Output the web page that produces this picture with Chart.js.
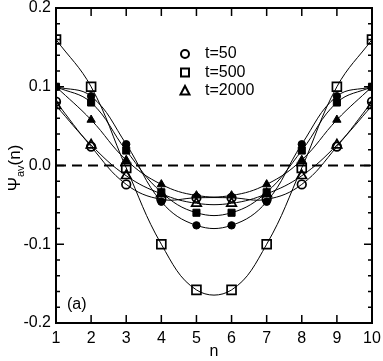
<!DOCTYPE html>
<html><head><meta charset="utf-8">
<script src="https://cdn.jsdelivr.net/npm/chart.js@4/dist/chart.umd.min.js"></script>
<style>html,body{margin:0;padding:0;background:#fff}#wrap{width:383px;height:361px}</style>
</head><body><div id="wrap"><canvas id="c" width="383" height="361"></canvas></div>
<script>
const nValues = [1,2,3,4,5,6,7,8,9,10];
const openCircle   = [0.081, 0.024, -0.024, -0.043, -0.041, -0.041, -0.043, -0.024, 0.024, 0.081];
const openSquare   = [0.160, 0.100, -0.003, -0.100, -0.158, -0.158, -0.100, -0.003, 0.100, 0.160];
const openTriangle = [0.076, 0.026, -0.013, -0.036, -0.048, -0.048, -0.036, -0.013, 0.026, 0.076];
const fullCircle   = [0.100, 0.088, 0.027, -0.046, -0.076, -0.076, -0.046, 0.027, 0.088, 0.100];
const fullSquare   = [0.100, 0.080, 0.019, -0.034, -0.060, -0.060, -0.034, 0.019, 0.080, 0.100];
const fullTriangle = [0.100, 0.058, 0.007, -0.024, -0.038, -0.038, -0.024, 0.007, 0.058, 0.100];
const legendLabels = ['t=50', 't=500', 't=2000'];
const yTicks = [-0.2, -0.1, 0.0, 0.1, 0.2];

const FONT = "'Liberation Sans', Arial, sans-serif";

function ds(label, vals, style, r, filled){
  return {
    label, data: nValues.map((n,i)=>({x:n, y:vals[i]})),
    borderColor:'#000', borderWidth:1, tension:0.4, fill:false,
    pointStyle:style, pointRadius:r, pointHoverRadius:r,
    pointBorderColor:'#000', pointBorderWidth: filled?1:1.7,
    pointBackgroundColor: filled ? '#000' : 'rgba(0,0,0,0)'
  };
}

const frame = {
  id:'frame',
  beforeDatasetsDraw(chart){
    const {ctx, chartArea:a, scales:{x,y}} = chart;
    ctx.save();
    ctx.strokeStyle='#000'; ctx.lineWidth=2; ctx.setLineDash([10,6]);
    const y0 = y.getPixelForValue(0);
    ctx.beginPath(); ctx.moveTo(a.left, y0); ctx.lineTo(a.right, y0); ctx.stroke();
    ctx.restore();
  },
  afterDraw(chart){
    const {ctx, chartArea:a, scales:{x,y}} = chart;
    ctx.save();
    ctx.strokeStyle='#000'; ctx.lineWidth=2;
    ctx.strokeRect(a.left, a.top, a.right-a.left, a.bottom-a.top);
    ctx.lineWidth=1.5;
    ctx.beginPath();
    for(const n of nValues){
      const px = x.getPixelForValue(n);
      ctx.moveTo(px, a.bottom); ctx.lineTo(px, a.bottom-8);
      ctx.moveTo(px, a.top); ctx.lineTo(px, a.top+8);
    }
    for(let k=-10;k<=10;k++){
      const v = k*0.02; const py = y.getPixelForValue(v);
      const len = (k%5===0)?8:4;
      ctx.moveTo(a.left, py); ctx.lineTo(a.left+len, py);
      ctx.moveTo(a.right, py); ctx.lineTo(a.right-len, py);
    }
    ctx.stroke();
    // legend
    const styles=['circle','rect','triangle'];
    const ly=[54,72.5,91];
    ctx.fillStyle='#000'; ctx.font='16px '+FONT; ctx.textBaseline='middle'; ctx.textAlign='left';
    ctx.lineWidth=2;
    for(let i=0;i<3;i++){
      ctx.beginPath();
      if(styles[i]==='circle'){ctx.arc(185,ly[i],4,0,Math.PI*2);}
      else if(styles[i]==='rect'){ctx.rect(181,ly[i]-4,8,8);}
      else {ctx.moveTo(185,ly[i]-5);ctx.lineTo(189.5,ly[i]+3.5);ctx.lineTo(180.5,ly[i]+3.5);ctx.closePath();}
      ctx.stroke();
      ctx.fillText(legendLabels[i], 205, ly[i]);
    }
    // (a)
    ctx.fillText('(a)', 67, 305);
    // x title
    ctx.textAlign='center';
    ctx.fillText('n', (a.left+a.right)/2, 352);
    // y title
    ctx.translate(20, 168); ctx.rotate(-Math.PI/2);
    ctx.textBaseline='alphabetic'; ctx.textAlign='left';
    const big='17px '+FONT, small='11px '+FONT;
    ctx.font=big; const w1=ctx.measureText('Ψ').width;
    ctx.font=small; const w2=ctx.measureText('av').width;
    ctx.font=big; const w3=ctx.measureText('(n)').width;
    let sx = -(w1+w2+w3)/2;
    ctx.font=big; ctx.fillText('Ψ', sx, 0); sx+=w1;
    ctx.font=small; ctx.fillText('av', sx, 4); sx+=w2;
    ctx.font=big; ctx.fillText('(n)', sx, 0);
    ctx.restore();
  }
};

new Chart(document.getElementById('c'), {
  type:'line',
  data:{ datasets:[
    ds('t=50', openCircle, 'circle', 4.3, false),
    ds('t=500', openSquare, 'rect', 6.3, false),
    ds('t=2000', openTriangle, 'triangle', 5.5, false),
    ds('filled circle', fullCircle, 'circle', 3.7, true),
    ds('filled square', fullSquare, 'rect', 5, true),
    ds('filled triangle', fullTriangle, 'triangle', 4.8, true)
  ]},
  options:{
    responsive:false, animation:false, devicePixelRatio:1,
    layout:{padding:{top:7,right:11,left:0,bottom:0}},
    plugins:{legend:{display:false}, tooltip:{enabled:false}},
    scales:{
      x:{type:'linear', min:1, max:10,
        grid:{display:false, drawTicks:false}, border:{display:false},
        ticks:{stepSize:1, color:'#000', font:{family:FONT, size:16}, padding:6, maxRotation:0,
          callback:v=>String(v)},
        afterFit(s){s.height=38; s.paddingLeft=0; s.paddingRight=0;}
      },
      y:{type:'linear', min:-0.2, max:0.2,
        grid:{display:false, drawTicks:false}, border:{display:false},
        afterBuildTicks(s){s.ticks = yTicks.map(v=>({value:v}));},
        ticks:{color:'#000', font:{family:FONT, size:16}, padding:5,
          callback:v=>Math.abs(v)<1e-9?'0.0':v.toFixed(1)},
        afterFit(s){s.width=56; s.paddingTop=0; s.paddingBottom=0;}
      }
    }
  },
  plugins:[frame]
});
</script></body></html>
